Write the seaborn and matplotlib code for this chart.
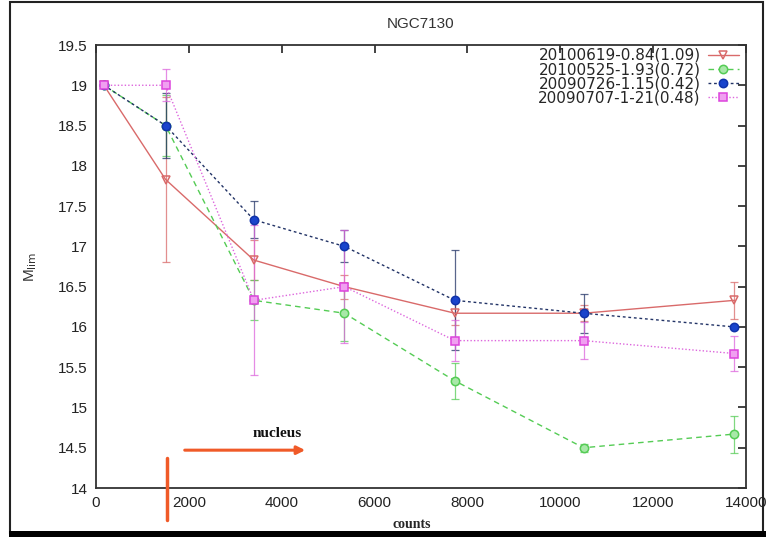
import numpy as np
import pandas as pd
import matplotlib
matplotlib.use("Agg")
import matplotlib.pyplot as plt
import seaborn as sns
from matplotlib.ticker import FormatStrFormatter

sns.set_theme(style="white")
plt.rcParams['font.family'] = ['Liberation Sans', 'DejaVu Sans']

counts = [170, 1500, 3400, 5350, 7730, 10500, 13750]

series_names = ["20100619-0.84(1.09)", "20100525-1.93(0.72)",
                "20090726-1.15(0.42)", "20090707-1-21(0.48)"]

mlim_a = [19.0, 17.83, 16.83, 16.50, 16.17, 16.17, 16.33]
mlim_b = [19.0, 18.50, 16.33, 16.17, 15.33, 14.50, 14.67]
mlim_c = [19.0, 18.50, 17.33, 17.00, 16.33, 16.17, 16.00]
mlim_d = [19.0, 19.00, 16.33, 16.50, 15.83, 15.83, 15.67]

err_a = [0.0, 1.03, 0.25, 0.15, 0.15, 0.10, 0.23]
err_b = [0.0, 0.38, 0.25, 0.35, 0.22, 0.05, 0.23]
err_c = [0.0, 0.40, 0.23, 0.20, 0.62, 0.24, 0.00]
err_d = [0.0, 0.20, 0.93, 0.70, 0.25, 0.23, 0.22]

values = [mlim_a, mlim_b, mlim_c, mlim_d]
errors = [err_a, err_b, err_c, err_d]

colors = ["#d96a6a", "#55cc55", "#1133aa", "#dd44dd"]
markers = ["v", "o", "o", "s"]
mfcs = ["none", "#a8e8a8", "#1a44cc", "#f0a0f0"]
linestyles = ["-", (0, (4, 3)), (0, (2, 2)), (0, (1, 1.5))]
lcolors = ["#d96a6a", "#55cc55", "#223366", "#dd66dd"]

rows = []
for name, v in zip(series_names, values):
    for x, y in zip(counts, v):
        rows.append({"counts": x, "mlim": y, "series": name})
df = pd.DataFrame(rows)

fig = plt.figure(figsize=(7.66, 5.37), dpi=100)
ax = fig.add_axes([0.1253, 0.0912, 0.8486, 0.825])

for i, name in enumerate(series_names):
    sub = df[df.series == name]
    ax.errorbar(sub["counts"], sub["mlim"], yerr=errors[i], fmt="none",
                ecolor=lcolors[i], elinewidth=0.9, capsize=3, capthick=0.9,
                alpha=0.75, zorder=2)
    sns.lineplot(data=sub, x="counts", y="mlim", ax=ax, color=lcolors[i],
                 marker=markers[i], markersize=6, markerfacecolor=mfcs[i],
                 markeredgecolor=colors[i], markeredgewidth=1.1, linewidth=1.0,
                 label=name, zorder=3)
    ax.lines[-1].set_linestyle(linestyles[i])

ax.set_xlim(0, 14000)
ax.set_ylim(14, 19.5)
ax.set_xticks(np.arange(0, 14001, 2000))
ax.set_yticks(np.arange(14, 19.51, 0.5))
ax.yaxis.set_major_formatter(FormatStrFormatter('%g'))
ax.tick_params(direction="in", length=6, width=1.2, top=True, right=True,
               labelsize=11, colors="#222222", pad=6)
for s in ax.spines.values():
    s.set_color("#333333")
    s.set_linewidth(1.3)

ax.set_title("NGC7130", fontsize=11, color="#333333", pad=12)
ax.set_ylabel(r"M$_{\mathrm{lim}}$", fontsize=11, color="#333333", labelpad=14)
ax.set_xlabel("")
fig.text(0.537, 0.024, "counts", fontsize=10, fontweight="bold",
         family="Liberation Serif", ha="center", va="center", zorder=12)

leg = ax.legend(loc="upper right", bbox_to_anchor=(0.99, 0.995),
                frameon=False, markerfirst=False,
                prop={"family": "DejaVu Sans", "size": 11},
                handlelength=2.0, borderaxespad=0.0, borderpad=0.05,
                labelspacing=-0.06, handletextpad=0.5)

# annotation
ax.plot([1529, 1529], [13.6, 14.37], color="#f05a28", linewidth=2.5,
        clip_on=False, zorder=5)
ax.annotate("", xy=(4566, 14.47), xytext=(1852, 14.47),
            arrowprops=dict(arrowstyle="-|>", color="#f05a28", lw=2.2,
                            mutation_scale=12))
ax.text(3900, 14.68, "nucleus", family="Liberation Serif", fontweight="bold",
        fontsize=11, ha="center", va="center", color="#111111")

# picture frame: dark border and black band at bottom
fig.patches.append(plt.Rectangle((0.0135, 0.008), 0.983, 0.989,
                                 transform=fig.transFigure, fill=False,
                                 edgecolor="#222222", lw=1.5, zorder=9))
fig.patches.append(plt.Rectangle((0.012, 0.0), 0.988, 0.0105,
                                 transform=fig.transFigure, facecolor="black",
                                 edgecolor="none", zorder=10))
fig.savefig("out.png", dpi=100)
